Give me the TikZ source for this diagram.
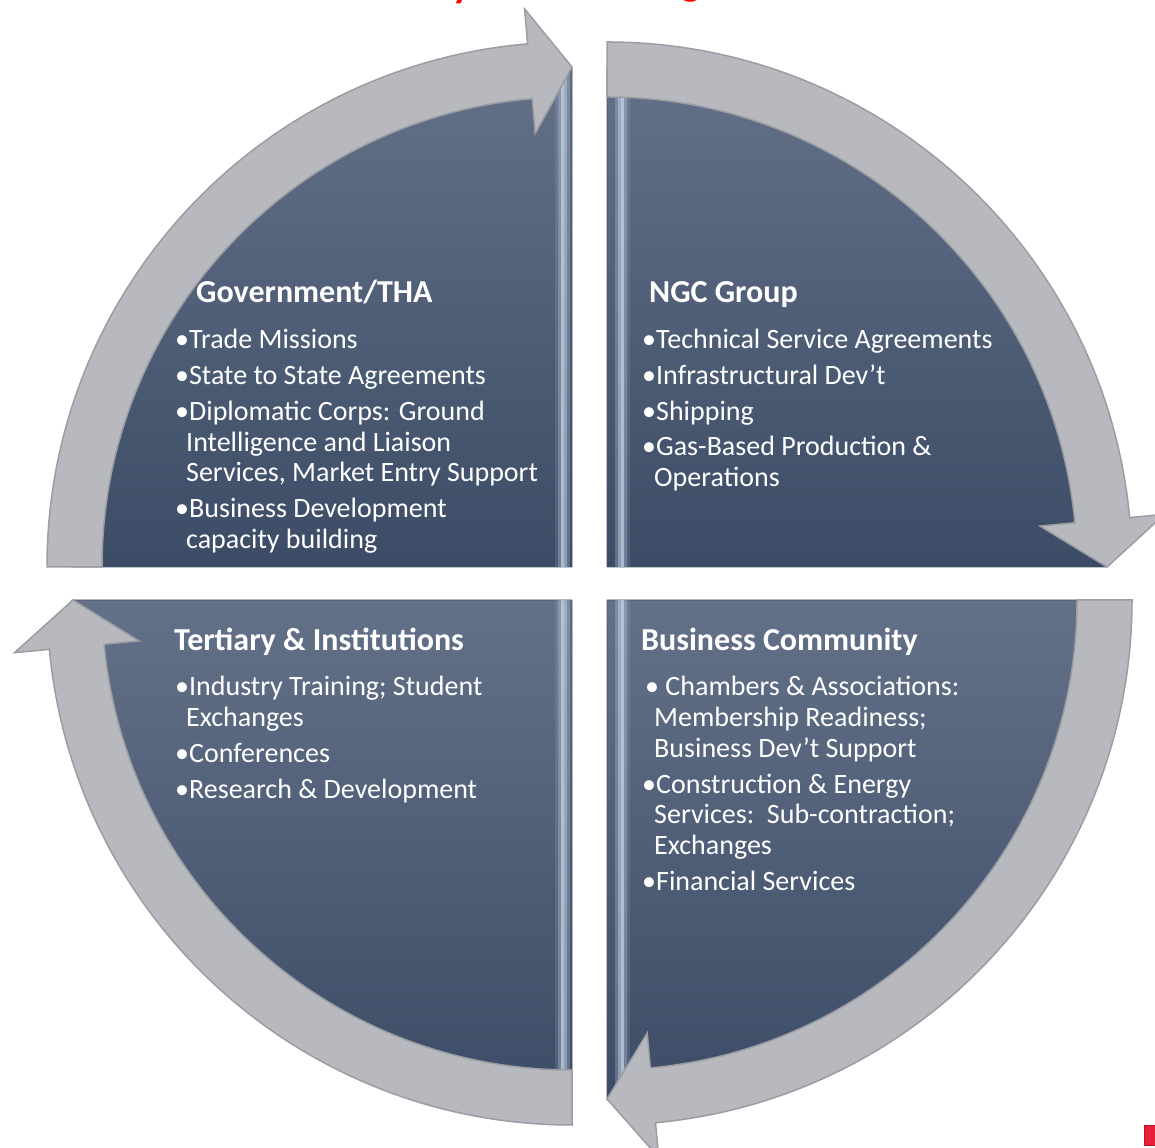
\documentclass[tikz,border=0pt]{standalone}
\usepackage{fontspec}
\setmainfont{Carlito}
\definecolor{pietop}{RGB}{99,113,136}
\definecolor{piebot}{RGB}{60,76,102}
\definecolor{pieedge}{RGB}{70,84,108}
\definecolor{bandgray}{RGB}{183,185,190}
\definecolor{bandedge}{RGB}{155,157,163}
\definecolor{stripe}{RGB}{210,222,242}
\definecolor{titlered}{RGB}{255,0,0}
\definecolor{redsq}{RGB}{232,32,58}
\definecolor{redsqedge}{RGB}{190,20,40}
\begin{document}
\begin{tikzpicture}[x=1pt,y=1pt,
  band/.style={fill=bandgray, draw=bandedge, line width=1.5pt, line join=miter},
  pie/.style={top color=pietop, bottom color=piebot, draw=pieedge, line width=0.8pt},
  head/.style={font=\fontsize{32}{38}\selectfont\bfseries, text=white, anchor=base west, inner sep=0pt},
  item/.style={font=\fontsize{28}{31}\selectfont, text=white, anchor=base west, inner sep=0pt},
  glint/.style={fill=stripe}]
\useasboundingbox (0,0) rectangle (1155,1147);
\coordinate (c1) at (572,580);
\coordinate (c2) at (607,580);
\coordinate (c3) at (572,547);
\coordinate (c4) at (607,547);

% red title fragments (clipped at the top edge)
\begin{scope}
\clip (0,0) rectangle (1155,1147);
\node[font=\fontsize{40}{40}\selectfont\bfseries, text=titlered, anchor=base west, inner sep=0pt] (ty) at (452,1149) {y};
\node[font=\fontsize{40}{40}\selectfont\bfseries, text=titlered, anchor=base west, inner sep=0pt] (tg) at (681,1151) {g};
\end{scope}

% pies
\path[pie] (c1) -- +(180:500) arc[start angle=180, end angle=90, radius=500] -- cycle;
\path[pie] (c2) -- +(90:500) arc[start angle=90, end angle=0, radius=500] -- cycle;
\path[pie] (c4) -- +(0:500) arc[start angle=0, end angle=-90, radius=500] -- cycle;
\path[pie] (c3) -- +(-90:500) arc[start angle=-90, end angle=-180, radius=500] -- cycle;

% glints along inner vertical edges
\foreach \cx/\cy/\s/\ya/\yb/\o in {572/580/-1/0/500/14, 572/547/-1/-500/0/14, 607/580/1/0/500/20, 607/547/1/-500/0/20}{
  \begin{scope}
  \ifnum\cy=580
    \ifnum\cx=572 \clip (c1) -- +(180:500) arc[start angle=180, end angle=90, radius=500] -- cycle;
    \else \clip (c2) -- +(90:500) arc[start angle=90, end angle=0, radius=500] -- cycle; \fi
  \else
    \ifnum\cx=572 \clip (c3) -- +(-90:500) arc[start angle=-90, end angle=-180, radius=500] -- cycle;
    \else \clip (c4) -- +(0:500) arc[start angle=0, end angle=-90, radius=500] -- cycle; \fi
  \fi
  \fill[glint, opacity=0.12] (\cx+\s*\o+\s*3,\cy+\ya) rectangle (\cx+\s*\o,\cy+\yb);
  \fill[glint, opacity=0.35] (\cx+\s*\o,\cy+\ya) rectangle (\cx+\s*\o-\s*3,\cy+\yb);
  \fill[glint, opacity=0.75] (\cx+\s*\o-\s*3,\cy+\ya) rectangle (\cx+\s*\o-\s*6,\cy+\yb);
  \fill[glint, opacity=0.55] (\cx+\s*\o-\s*6,\cy+\ya) rectangle (\cx+\s*\o-\s*9,\cy+\yb);
  \fill[glint, opacity=0.25] (\cx+\s*\o-\s*9,\cy+\ya) rectangle (\cx+\s*\o-\s*12,\cy+\yb);
  \end{scope}
}

% arrow bands
\path[band] ([shift={(180:525)}]c1) arc[start angle=180, end angle=94.85, radius=525]
  -- ([shift={(94.85:560)}]c1) -- ([shift={(90:500)}]c1) -- ([shift={(94.85:435)}]c1)
  -- ([shift={(94.85:470)}]c1) arc[start angle=94.85, end angle=180, radius=470] -- cycle;
\path[band] ([shift={(90:525)}]c2) arc[start angle=90, end angle=5.4, radius=525]
  -- ([shift={(5.4:560)}]c2) -- ([shift={(0:500)}]c2) -- ([shift={(5.4:435)}]c2)
  -- ([shift={(5.4:470)}]c2) arc[start angle=5.4, end angle=90, radius=470] -- cycle;
\path[band] ([shift={(0:525)}]c4) arc[start angle=0, end angle=-84.7, radius=525]
  -- ([shift={(-84.7:560)}]c4) -- ([shift={(-90:499)}]c4) -- ([shift={(-84.7:435)}]c4)
  -- ([shift={(-84.7:470)}]c4) arc[start angle=-84.7, end angle=0, radius=470] -- cycle;
\path[band] ([shift={(-90:525)}]c3) arc[start angle=-90, end angle=-174.6, radius=525]
  -- ([shift={(-174.6:560)}]c3) -- ([shift={(180:499)}]c3) -- ([shift={(-174.6:435)}]c3)
  -- ([shift={(-174.6:470)}]c3) arc[start angle=-174.6, end angle=-90, radius=470] -- cycle;

% Government/THA
\node[head] (h1) at (196,844) {Government/THA};
\node[item] (a1) at (175,798) {\textbullet Trade Missions};
\node[item] (a2) at (175,762) {\textbullet State to State Agreements};
\node[item] (a3) at (175,726) {\textbullet Diplomatic Corps: Ground};
\node[item] (a4) at (186,695) {Intelligence and Liaison};
\node[item] (a5) at (186,665) {Services, Market Entry Support};
\node[item] (a6) at (175,629) {\textbullet Business Development};
\node[item] (a7) at (186,598) {capacity building};

% NGC Group
\node[head] (h2) at (649,844) {NGC Group};
\node[item] (b1) at (642,798) {\textbullet Technical Service Agreements};
\node[item] (b2) at (642,762) {\textbullet Infrastructural Dev’t};
\node[item] (b3) at (642,726) {\textbullet Shipping};
\node[item] (b4) at (642,691) {\textbullet Gas-Based Production \&};
\node[item] (b5) at (654,660) {Operations};

% Tertiary & Institutions
\node[head] (h3) at (174,496) {Tertiary \& Institutions};
\node[item] (d1) at (175,451) {\textbullet Industry Training; Student};
\node[item] (d2) at (186,420) {Exchanges};
\node[item] (d3) at (175,384) {\textbullet Conferences};
\node[item] (d4) at (175,348) {\textbullet Research \& Development};

% Business Community
\node[head] (h4) at (641,496) {Business Community};
\node[item] (e1) at (645,451) {\textbullet\ Chambers \& Associations:};
\node[item] (e2) at (654,420) {Membership Readiness;};
\node[item] (e3) at (654,389) {Business Dev’t Support};
\node[item] (e4) at (642,353) {\textbullet Construction \& Energy};
\node[item] (e5) at (654,323) {Services:\ \ Sub-contraction;};
\node[item] (e6) at (654,292) {Exchanges};
\node[item] (e7) at (642,256) {\textbullet Financial Services};

% red marker
\filldraw[fill=redsq, draw=redsqedge, line width=1pt] (1144,2) rectangle (1156,21);
\end{tikzpicture}
\end{document}
